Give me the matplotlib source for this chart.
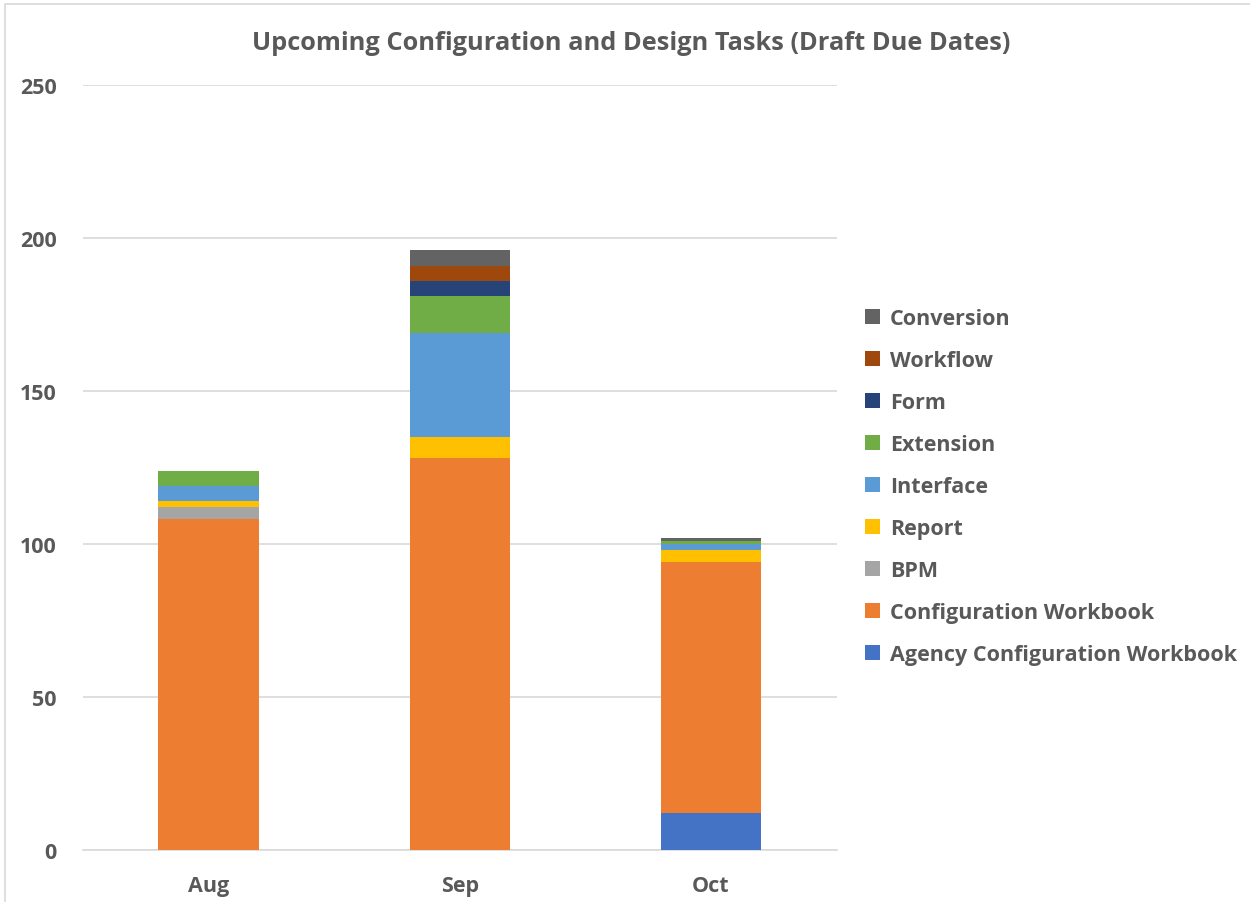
import matplotlib
matplotlib.use("Agg")
import matplotlib.pyplot as plt
from matplotlib.patches import Rectangle, Patch
import numpy as np

months = ["Aug", "Sep", "Oct"]
series = ["Agency Configuration Workbook", "Configuration Workbook", "BPM", "Report",
          "Interface", "Extension", "Form", "Workflow", "Conversion"]
agency_config_workbook = [0, 0, 12]
configuration_workbook = [108, 128, 82]
bpm = [4, 0, 0]
report = [2, 7, 4]
interface = [5, 34, 2]
extension = [5, 12, 1]
form = [0, 5, 0]
workflow = [0, 5, 0]
conversion = [0, 5, 1]
values = [agency_config_workbook, configuration_workbook, bpm, report, interface,
          extension, form, workflow, conversion]
colors = ["#4472C4", "#ED7D31", "#A5A5A5", "#FFC000", "#5B9BD5", "#70AD47",
          "#264478", "#9E480E", "#636363"]

plt.rcParams['font.family'] = ['Open Sans', 'DejaVu Sans']
txt = "#595959"

fig = plt.figure(figsize=(12.5, 9.03), dpi=100)
ax = fig.add_axes([0.0664, 0.0576, 0.6028, 0.8472])

x = np.arange(len(months))
bottom = np.zeros(len(months))
handles = []
for name, vals, c in zip(series, values, colors):
    v = np.array(vals, dtype=float)
    ax.bar(x, v, bottom=bottom, width=0.4, color=c, label=name, zorder=3)
    bottom += v
    handles.append(Patch(facecolor=c, label=name))

ax.set_xlim(-0.5, 2.5)
ax.set_ylim(0, 250)
ax.set_yticks(np.arange(0, 251, 50))
ax.set_xticks(x)
ax.set_xticklabels(months)
ax.grid(axis='y', color='#D9D9D9', linewidth=1.2, zorder=0)
for s in ['top', 'right', 'left']:
    ax.spines[s].set_visible(False)
ax.spines['bottom'].set_color('#D9D9D9')
ax.spines['bottom'].set_linewidth(1.2)
ax.tick_params(axis='both', length=0, labelsize=15.5, labelcolor=txt)
ax.tick_params(axis='y', pad=19)
ax.tick_params(axis='x', pad=18)
for lab in ax.get_xticklabels() + ax.get_yticklabels():
    lab.set_fontweight('bold')

fig.text(0.505, 0.952, "Upcoming Configuration and Design Tasks (Draft Due Dates)",
         ha='center', va='center', fontsize=18.3, fontweight='bold', color=txt)

leg = fig.legend(handles=handles[::-1], loc='upper left', bbox_to_anchor=(0.685, 0.667),
                 frameon=False, fontsize=15.5, labelspacing=0.975, handlelength=0.72,
                 handleheight=0.72, handletextpad=0.45, borderaxespad=0)
for t in leg.get_texts():
    t.set_color(txt)
    t.set_fontweight('bold')

fig.patches.append(Rectangle((0.004, -0.01), 1.1, 1.004, transform=fig.transFigure,
                             fill=False, edgecolor='#D9D9D9', linewidth=1.2))

fig.savefig("out.png", dpi=100)
